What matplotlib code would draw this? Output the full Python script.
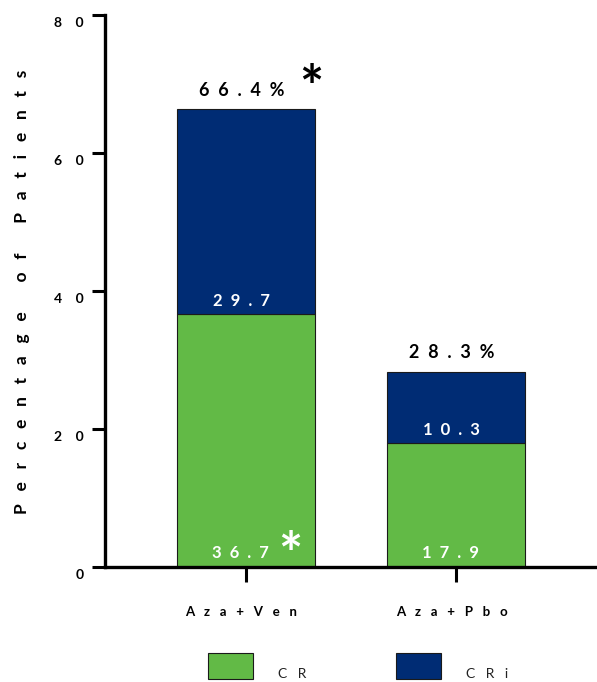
import matplotlib
matplotlib.use("Agg")
import matplotlib.pyplot as plt
from matplotlib.patches import Rectangle
import matplotlib.transforms as mtransforms

# ---- data ----
groups = ["Aza+Ven", "Aza+Pbo"]
series = ["CR", "CRi"]
cr_values = [36.7, 17.9]
cri_values = [29.7, 10.3]
totals = [66.4, 28.3]
cr_significant = [True, False]
total_significant = [True, False]
y_ticks = [0, 20, 40, 60, 80]
y_title = "Percentage of Patients"

colors = {"CR": "#62BA46", "CRi": "#002C74"}
edge = "#1a1a1a"

plt.rcParams["font.family"] = ["Lato", "DejaVu Sans"]

W, H = 597, 682
fig = plt.figure(figsize=(W / 100, H / 100), dpi=100)


def spaced(s, n):
    """Letter-spaced text: characters separated by runs of n spaces."""
    return (" " * n).join(s)


ax = fig.add_axes([105 / W, 1 - 567 / H, 492 / W, 552 / H])

x = list(range(len(groups)))
bw = 0.66
ax.bar(x, cr_values, bw, color=colors["CR"], edgecolor=edge, linewidth=0.8, zorder=2)
ax.bar(x, cri_values, bw, bottom=cr_values, color=colors["CRi"], edgecolor=edge,
       linewidth=0.8, zorder=2)

ax.set_xlim(-0.671, 1.671)
ax.set_ylim(0, 80)

for side in ("top", "right"):
    ax.spines[side].set_visible(False)
for side in ("left", "bottom"):
    ax.spines[side].set_linewidth(2.4)
    ax.spines[side].set_color("black")
    ax.spines[side].set_capstyle("projecting")

ax.set_yticks(y_ticks, [spaced(str(t), 4) for t in y_ticks])
ax.set_xticks(x, [spaced(g, 3) for g in groups])
ax.tick_params(axis="y", length=9.4, width=2.2, pad=6, labelsize=10)
ax.tick_params(axis="x", length=10.8, width=2.2, pad=17, labelsize=9.5)
yshift = mtransforms.ScaledTranslation(0, -0.07, fig.dpi_scale_trans)
xshift = mtransforms.ScaledTranslation(-0.045, 0, fig.dpi_scale_trans)
for lbl in ax.get_yticklabels():
    lbl.set_fontweight("bold")
    lbl.set_transform(lbl.get_transform() + yshift)
for lbl in ax.get_xticklabels():
    lbl.set_fontweight("bold")
    lbl.set_transform(lbl.get_transform() + xshift)

# value labels
for i in x:
    ax.annotate(spaced(f"{totals[i]:.1f}%", 2), xy=(i, totals[i]), xytext=(-3, 13.5),
                textcoords="offset points", ha="center", va="center",
                fontsize=13, fontweight="bold", color="black")
    if total_significant[i]:
        ax.annotate("*", xy=(i, totals[i]), xytext=(47, 1),
                    textcoords="offset points", ha="center", va="baseline",
                    fontsize=41, fontweight="bold", color="black")
    ax.annotate(spaced(f"{cri_values[i]:.1f}", 2), xy=(i, cr_values[i]),
                xytext=(-3, 9.5), textcoords="offset points", ha="center", va="center",
                fontsize=12, fontweight="bold", color="white")
    ax.annotate(spaced(f"{cr_values[i]:.1f}", 2), xy=(i, 0), xytext=(-4, 10),
                textcoords="offset points", ha="center", va="center",
                fontsize=12, fontweight="bold", color="white")
    if cr_significant[i]:
        ax.annotate("*", xy=(i, 0), xytext=(31.7, -5),
                    textcoords="offset points", ha="center", va="baseline",
                    fontsize=41, fontweight="bold", color="white")

# y-axis title
fig.text(22 / W, 1 - 292 / H, spaced(y_title, 3), rotation=90, ha="center",
         va="center", fontsize=12.5, fontweight="bold")

# legend
legend_x = [208, 396]
for name, lx in zip(series, legend_x):
    fig.patches.append(Rectangle((lx / W, 1 - 679 / H), 45 / W, 26 / H,
                                 transform=fig.transFigure, facecolor=colors[name],
                                 edgecolor=edge, linewidth=0.8))
    fig.text((lx + 70) / W, 1 - 674 / H, spaced(name, 3), ha="left",
             va="center", fontsize=10, color="#222222")

fig.savefig("out.png", dpi=100)
